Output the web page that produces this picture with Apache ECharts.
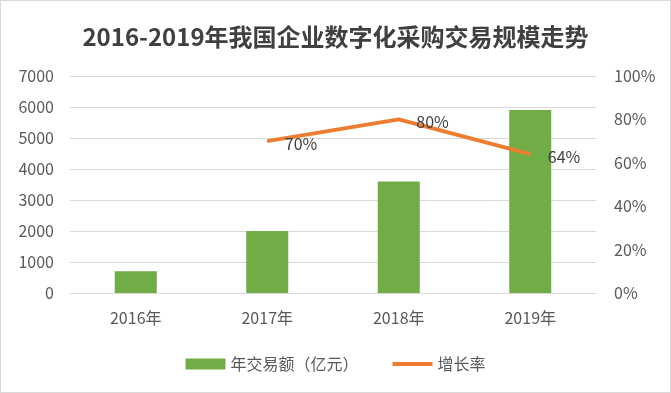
<!DOCTYPE html>
<html><head><meta charset="utf-8">
<script src="https://cdn.jsdelivr.net/npm/echarts@6/dist/echarts.min.js"></script>
<style>html,body{margin:0;padding:0;background:#fff}#c{width:671px;height:393px;box-sizing:border-box;border:1px solid #d9d9d9}</style>
</head><body><div id="c"></div>
<script>
const categories = ['2016年','2017年','2018年','2019年'];
const volume = [700, 2000, 3600, 5900];
const growth = [null, 70, 80, 64];
const leftTicks = [0,1000,2000,3000,4000,5000,6000,7000];
const rightTicks = [0,20,40,60,80,100];

const chart = echarts.init(document.getElementById('c'));
const font = '"Microsoft YaHei","Noto Sans CJK SC",sans-serif';
chart.setOption({
  animation:false,
  title:{text:'2016-2019年我国企业数字化采购交易规模走势',left:'center',top:19,
    textStyle:{fontSize:24,fontWeight:'bold',color:'#404040',fontFamily:font}},
  legend:{top:350,itemGap:34,itemWidth:40,itemHeight:11,
    textStyle:{fontSize:16,color:'#595959',fontFamily:font},
    data:[{name:'年交易额（亿元）',icon:'rect'},{name:'增长率',icon:'path://M0,4 L40,4 L40,8 L0,8 Z'}]},
  grid:{left:69,right:74,top:75,bottom:99},
  xAxis:{type:'category',data:categories,
    axisLine:{lineStyle:{color:'#d9d9d9'}},axisTick:{show:false},
    axisLabel:{fontSize:16,color:'#595959',margin:17,fontFamily:font}},
  yAxis:[
    {type:'value',min:0,max:7000,interval:1000,
      axisLabel:{fontSize:16,color:'#595959',margin:16,fontFamily:font,
        formatter:v=>leftTicks.includes(v)?String(v):''},
      splitLine:{lineStyle:{color:'#d9d9d9'}},axisLine:{show:false},axisTick:{show:false}},
    {type:'value',min:0,max:100,interval:20,
      axisLabel:{fontSize:16,color:'#595959',margin:18,fontFamily:font,
        formatter:v=>rightTicks.includes(v)?v+'%':''},
      splitLine:{show:false},axisLine:{show:false},axisTick:{show:false}}
  ],
  series:[
    {name:'年交易额（亿元）',type:'bar',data:volume,barWidth:42,itemStyle:{color:'#70ad47'}},
    {name:'增长率',type:'line',yAxisIndex:1,data:growth,symbol:'circle',symbolSize:1,showSymbol:true,
      lineStyle:{color:'#ed7d31',width:4},itemStyle:{color:'#ed7d31'},
      label:{show:true,position:'right',distance:17,offset:[0,3],formatter:p=>p.value+'%',
        fontSize:16,color:'#404040',fontFamily:font}}
  ]
});
</script></body></html>
